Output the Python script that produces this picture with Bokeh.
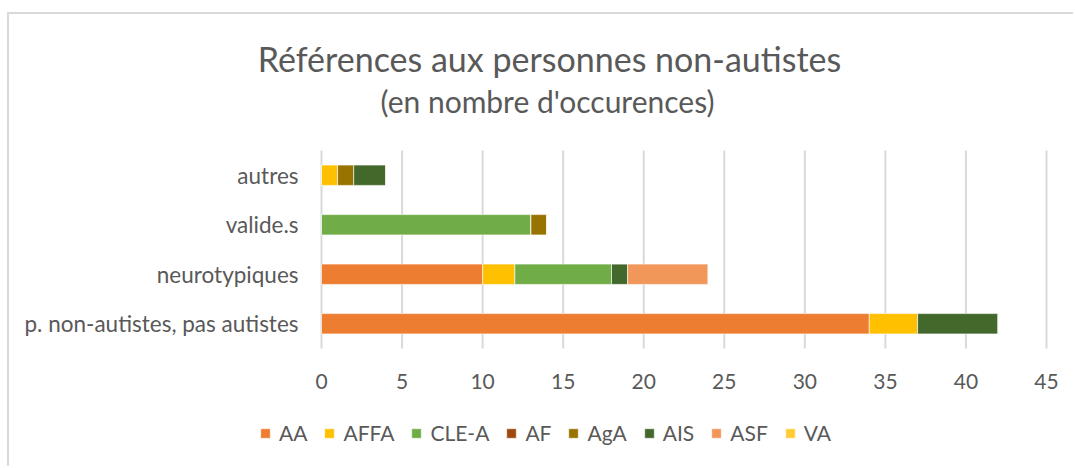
from bokeh.plotting import figure
from bokeh.models import Label, Legend, LegendItem, ColumnDataSource, Range1d
from bokeh.core.properties import value
from bokeh.embed import file_html
from bokeh.resources import INLINE

categories = ["p. non-autistes, pas autistes", "neurotypiques", "valide.s", "autres"]
series = ["AA", "AFFA", "CLE-A", "AF", "AgA", "AIS", "ASF", "VA"]
AA = [34, 10, 0, 0]
AFFA = [3, 2, 0, 1]
CLE_A = [0, 6, 13, 0]
AF = [0, 0, 0, 0]
AgA = [0, 0, 1, 1]
AIS = [5, 1, 0, 2]
ASF = [0, 5, 0, 0]
VA = [0, 0, 0, 0]
colors = ["#ED7D31", "#FFC000", "#70AD47", "#9E480E", "#997300", "#43682B", "#F1975A", "#FFCD33"]
x_ticks = [0, 5, 10, 15, 20, 25, 30, 35, 40, 45]
title_text = "Références aux personnes non-autistes"
subtitle_text = "(en nombre d'occurences)"

FONT = "Lato"
GRAY = "#595959"

cat_pos = list(range(len(categories)))
data = {"y": cat_pos, "cat": categories, "AA": AA, "AFFA": AFFA, "CLE-A": CLE_A, "AF": AF,
        "AgA": AgA, "AIS": AIS, "ASF": ASF, "VA": VA}
src = ColumnDataSource(data)

# frame = whole canvas; ranges chosen so the bar area sits where the reference has it
p = figure(width=1066, height=454, x_range=Range1d(-19.366, 46.8), y_range=Range1d(-2.924, 6.247),
           output_backend="svg", toolbar_location=None, x_axis_type=None, y_axis_type=None,
           min_border=0)
p.title.text = ""
p.outline_line_color = None
p.xgrid.visible = False
p.ygrid.visible = False
p.styles = {"margin-left": "7px", "margin-top": "12px",
            "border-left": "2px solid #d9d9d9", "border-top": "2px solid #d9d9d9"}

y_lo = cat_pos[0] - 0.5
y_hi = cat_pos[-1] + 0.5

# vertical grid lines at the x ticks
p.segment(x0=x_ticks, x1=x_ticks, y0=[y_lo] * len(x_ticks), y1=[y_hi] * len(x_ticks),
          line_color="#d9d9d9", line_width=2)

rs = p.hbar_stack(series, y="y", height=0.41, color=colors, source=src,
                  line_color="white", line_width=0.6)

# category labels (y axis)
p.text(x=[0] * len(categories), y=cat_pos, text=categories, x_offset=-23,
       text_align="right", text_baseline="middle", text_font=value(FONT),
       text_font_size="22.5px", text_color=GRAY)

# x tick labels
p.text(x=x_ticks, y=[y_lo] * len(x_ticks), text=[str(t) for t in x_ticks], y_offset=33,
       text_align="center", text_baseline="middle", text_font=value(FONT),
       text_font_size="21px", text_color=GRAY)

# titles (screen px from bottom-left of canvas)
p.add_layout(Label(x=540, y=410, x_units="screen", y_units="screen", text=title_text,
                   text_font=FONT, text_font_size="34px", text_color=GRAY,
                   text_align="center", text_baseline="middle"))
p.add_layout(Label(x=538, y=368, x_units="screen", y_units="screen", text=subtitle_text,
                   text_font=FONT, text_font_size="30px", text_color=GRAY,
                   text_align="center", text_baseline="middle"))

legend = Legend(items=[LegendItem(label=s, renderers=[r]) for s, r in zip(series, rs)],
                orientation="horizontal", location=(250, 23),
                label_text_font=FONT, label_text_font_size="21px", label_text_color=GRAY,
                glyph_width=12, glyph_height=12, spacing=16, label_standoff=8,
                border_line_color=None, background_fill_alpha=0, margin=0, padding=4)
p.add_layout(legend, "center")

open("out.html", "w").write(file_html(p, INLINE))
